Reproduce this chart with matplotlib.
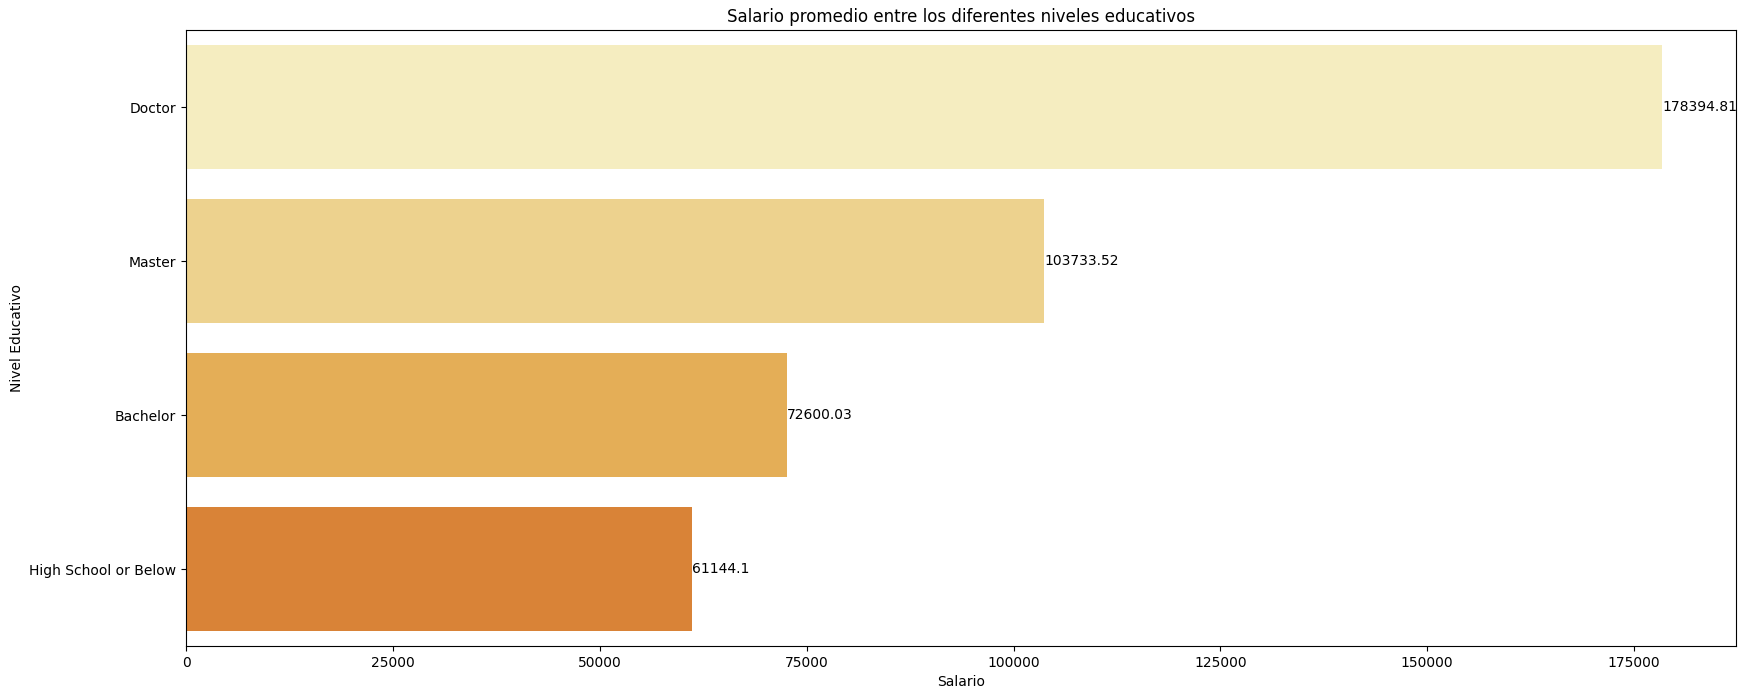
import matplotlib
matplotlib.use("Agg")
import matplotlib.pyplot as plt

niveles  = ["Doctor", "Master", "Bachelor", "High School or Below"]
salarios = [178394.81, 103733.52, 72600.03, 61144.1]
colores  = ["#F5EDC0", "#EDD28E", "#E4AE57", "#D98337"]

fig, ax = plt.subplots(figsize=(17.47, 6.99), dpi=100)
fig.subplots_adjust(left=0.1065, right=0.9937, top=0.957, bottom=0.0758)

bars = ax.barh(niveles, salarios, height=0.8, color=colores)
ax.set_ylim(-0.5, len(niveles) - 0.5)
ax.invert_yaxis()
ax.set_xlim(0, max(salarios) * 1.05)
ax.bar_label(bars, labels=[str(v) for v in salarios], fontsize=10)

ax.set_title("Salario promedio entre los diferentes niveles educativos")
ax.set_xlabel("Salario")
ax.set_ylabel("Nivel Educativo")

plt.savefig("out.png", dpi=100)
